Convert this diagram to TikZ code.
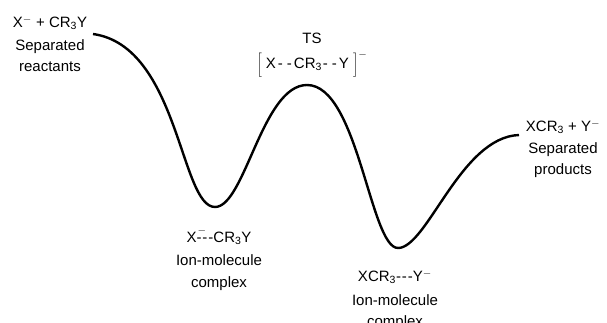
\documentclass[tikz,border=0pt]{standalone}
\usepackage{fontspec}
\setmainfont{Liberation Sans}
\usetikzlibrary{positioning}

\begin{document}
\begin{tikzpicture}[x=1pt,y=1pt,
    lbl/.style={font=\fontsize{15}{21.5}\selectfont, inner sep=0pt, align=center},
    profile/.style={line width=2.4pt}]
  \useasboundingbox (0,0) rectangle (607,-323);

  % Energy profile
  \coordinate (start) at (93,-34);
  \coordinate (well1) at (215,-207);
  \coordinate (peak) at (307,-85);
  \coordinate (well2) at (398,-248);
  \coordinate (finish) at (519,-135);
  \draw[profile] (start) to[out=-8,in=180,out looseness=1.05,in looseness=0.42] (well1)
    to[out=0,in=180,out looseness=0.5,in looseness=0.75] (peak)
    to[out=0,in=180,out looseness=0.7,in looseness=0.38] (well2)
    to[out=0,in=182,out looseness=0.45,in looseness=0.9] (finish);

  % Reactants
  \node[lbl] (react) at (50,-23) {X$^{-}$ + CR\textsubscript{3}Y};
  \node[lbl, below=9pt of react] (reactlbl) {Separated\\reactants};

  % Transition state
  \node[lbl] (tslbl) at (312,-38) {TS};
  \node[lbl, below=7pt of tslbl] (ts)
    {$\bigg[$ X\kern2pt-\kern4pt-\kern2pt CR\textsubscript{3}\kern1pt-\kern4pt-\kern2pt Y $\bigg]^{-}$};

  % Products
  \node[lbl] (prod) at (563,-127) {XCR\textsubscript{3} + Y$^{-}$};
  \node[lbl, below=8pt of prod] (prodlbl) {Separated\\products};

  % Complexes
  \node[lbl] (cplx1) at (219,-236) {X\rlap{\kern1pt\raisebox{3pt}{$^{-}$}}-\kern1pt-\kern1pt-CR\textsubscript{3}Y};
  \node[lbl, below=10pt of cplx1] (cplx1lbl) {Ion-molecule\\complex};
  \node[lbl] (cplx2) at (395,-277) {XCR\textsubscript{3}-\kern1pt-\kern1pt-Y$^{-}$};
  \node[lbl, below=10pt of cplx2] (cplx2lbl) {Ion-molecule\\complex};
\end{tikzpicture}
\end{document}
